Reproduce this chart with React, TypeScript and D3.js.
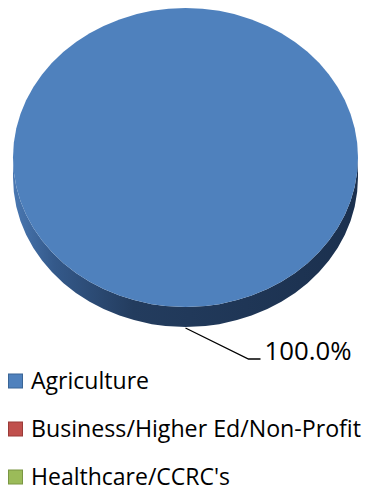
import React from "react";
import * as d3 from "d3";

const categories = ["Agriculture", "Business/Higher Ed/Non-Profit", "Healthcare/CCRC's"];
const values = [100, 0, 0];
const colors = ["#4F81BD", "#C0504D", "#9BBB59"];
const borderColors = ["#3A6596", "#9A3B38", "#7A9643"];
const labelWidths = [118, 330, 199];

const W = 367;
const H = 491;
const cx = 185.5;
const cy = 157.5;
const rx = 172.5;
const ry = 149.5;
const depth = 20;

export default function App() {
  const pie = d3.pie<number>().value((d) => d).sort(null).startAngle(0).endAngle(2 * Math.PI);
  const arcs = pie(values);
  const arc = d3.arc<d3.PieArcDatum<number>>().innerRadius(0).outerRadius(rx);
  const total = d3.sum(values);
  const fmt = d3.format(".1%");

  const sidePath = `M${cx - rx},${cy} A${rx},${ry} 0 0 0 ${cx + rx},${cy} L${cx + rx},${cy + depth} A${rx},${ry} 0 0 1 ${cx - rx},${cy + depth} Z`;

  const labels = arcs
    .filter((a) => a.value > 0)
    .map((a, i) => {
      const mid = (a.startAngle + a.endAngle) / 2;
      const px = cx + rx * Math.sin(mid);
      const py = cy - ry * Math.cos(mid) + depth;
      return { key: i, px, py, text: fmt(a.value / total) };
    });

  const legendY = d3.scaleBand<string>().domain(categories).range([357, 501]);

  return (
    <svg width={W} height={H} style={{ position: "absolute", left: 0, top: 0, background: "#fff" }}>
      <defs>
        <linearGradient id="side" x1="0" x2="1" y1="0" y2="0">
          <stop offset="0%" stopColor="#4a78b2" />
          <stop offset="12%" stopColor="#34598a" />
          <stop offset="35%" stopColor="#233c5e" />
          <stop offset="100%" stopColor="#1b304e" />
        </linearGradient>
      </defs>
      {values[0] > 0 && <path d={sidePath} fill="url(#side)" />}
      <g transform={`translate(${cx},${cy}) scale(1,${ry / rx})`}>
        {arcs.map((a, i) => (
          <path key={i} d={arc(a) || ""} fill={colors[i]} />
        ))}
      </g>
      {labels.map((l) => (
        <g key={l.key}>
          <polyline
            points={`${l.px},${l.py + 1} ${l.px + 63},${l.py + 32} ${l.px + 75},${l.py + 32}`}
            fill="none"
            stroke="#000"
            strokeWidth={1.3}
          />
          <text
            x={l.px + 79}
            y={l.py + 33}
            fontFamily="Open Sans, sans-serif"
            fontSize={26}
            fill="#000"
            textLength={87}
            lengthAdjust="spacingAndGlyphs"
          >
            {l.text}
          </text>
        </g>
      ))}
      {categories.map((c, i) => {
        const y = (legendY(c) || 0) + legendY.bandwidth() / 2;
        return (
          <g key={c}>
            <rect x={8.5} y={y - 7} width={14} height={14} fill={colors[i]} stroke={borderColors[i]} strokeWidth={1} />
            <text
              x={31}
              y={y + 8}
              fontFamily="Open Sans, sans-serif"
              fontSize={23}
              fill="#000"
              textLength={labelWidths[i]}
              lengthAdjust="spacingAndGlyphs"
            >
              {c}
            </text>
          </g>
        );
      })}
    </svg>
  );
}
